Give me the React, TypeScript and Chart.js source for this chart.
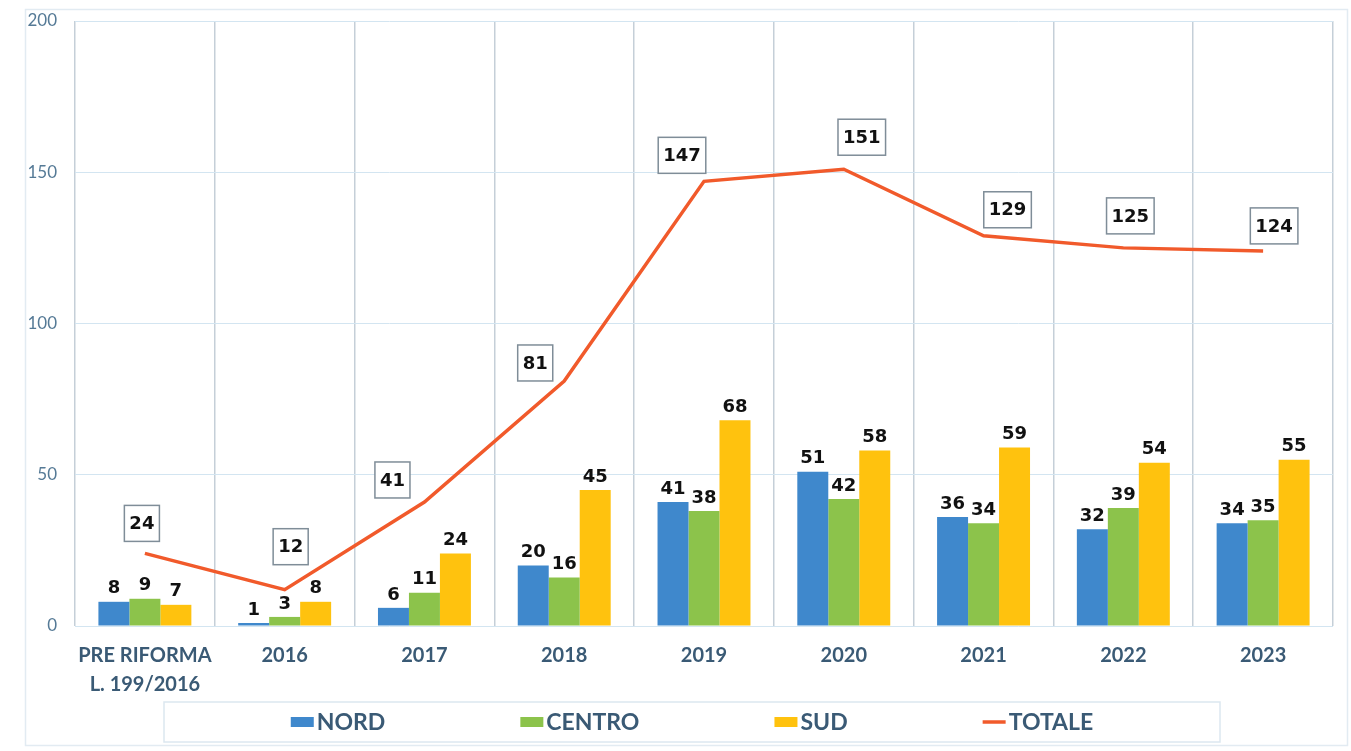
import React, { useEffect, useRef } from "react";
import { Chart, registerables } from "chart.js";

Chart.register(...registerables);

const categories: (string | string[])[] = [
  ["PRE RIFORMA", "L. 199/2016"],
  "2016",
  "2017",
  "2018",
  "2019",
  "2020",
  "2021",
  "2022",
  "2023",
];
const nord = [8, 1, 6, 20, 41, 51, 36, 32, 34];
const centro = [9, 3, 11, 16, 38, 42, 34, 39, 35];
const sud = [7, 8, 24, 45, 68, 58, 59, 54, 55];
const totale = [24, 12, 41, 81, 147, 151, 129, 125, 124];
const yTicks = [0, 50, 100, 150, 200];

const COLORS = {
  nord: "#3f88cc",
  centro: "#8cc34b",
  sud: "#ffc20e",
  totale: "#f15a2b",
};

const TEXT_DARK = "#3a5a75";

const labelsPlugin = {
  id: "valueLabels",
  afterDatasetsDraw(chart: any, _args: any, opts: any) {
    const ctx = chart.ctx;
    ctx.save();
    chart.data.datasets.forEach((ds: any, di: number) => {
      const meta = chart.getDatasetMeta(di);
      if (meta.hidden) return;
      if (ds.type === "line") {
        ctx.font = "bold 18px 'DejaVu Sans'";
        ctx.textAlign = "center";
        ctx.textBaseline = "middle";
        meta.data.forEach((el: any, i: number) => {
          const off = (opts.lineOffsets && opts.lineOffsets[i]) || [0, -28];
          const cx = el.x + off[0];
          const cy = el.y + off[1];
          const txt = String(ds.data[i]);
          const w = ctx.measureText(txt).width + 10;
          const h = 36;
          ctx.fillStyle = "#ffffff";
          ctx.fillRect(cx - w / 2, cy - h / 2, w, h);
          ctx.strokeStyle = "#7f8d98";
          ctx.lineWidth = 1.5;
          ctx.strokeRect(cx - w / 2, cy - h / 2, w, h);
          ctx.fillStyle = "#111111";
          ctx.fillText(txt, cx, cy + 1);
        });
      } else {
        ctx.font = "bold 18px 'DejaVu Sans'";
        ctx.textAlign = "center";
        ctx.textBaseline = "bottom";
        ctx.fillStyle = "#111111";
        meta.data.forEach((el: any, i: number) => {
          ctx.fillText(String(ds.data[i]), el.x, el.y - 4);
        });
      }
    });
    ctx.restore();
  },
};

const framePlugin = {
  id: "frameAndLegend",
  beforeDraw(chart: any) {
    const ctx = chart.ctx;
    ctx.save();
    ctx.fillStyle = "#ffffff";
    ctx.fillRect(0, 0, chart.width, chart.height);
    ctx.strokeStyle = "#e2ebf2";
    ctx.lineWidth = 1.5;
    ctx.strokeRect(25.5, 9.5, chart.width - 29, chart.height - 15);
    ctx.restore();
  },
  afterDraw(chart: any) {
    const ctx = chart.ctx;
    const area = chart.chartArea;
    ctx.save();
    const center = (area.left + area.right) / 2 - 12;
    const cy = 722;
    ctx.strokeStyle = "#dce7f0";
    ctx.lineWidth = 1.5;
    ctx.strokeRect(center - 528, cy - 20, 1056, 40);
    ctx.font = "bold 23px Lato";
    ctx.textBaseline = "middle";
    ctx.textAlign = "left";
    const gap = 135;
    const items = chart.data.datasets.map((ds: any) => {
      const tw = ctx.measureText(ds.label).width;
      return { ds, tw, w: 23 + 3 + tw };
    });
    const total = items.reduce((s: number, it: any) => s + it.w, 0) + gap * (items.length - 1);
    let x = center - total / 2;
    items.forEach((it: any) => {
      const ds = it.ds;
      if (ds.type === "line") {
        ctx.strokeStyle = ds.borderColor;
        ctx.lineWidth = 3.5;
        ctx.beginPath();
        ctx.moveTo(x, cy);
        ctx.lineTo(x + 23, cy);
        ctx.stroke();
      } else {
        ctx.fillStyle = ds.backgroundColor;
        ctx.fillRect(x, cy - 5, 23, 10);
      }
      ctx.fillStyle = TEXT_DARK;
      ctx.fillText(ds.label, x + 26, cy + 1);
      x += it.w + gap;
    });
    ctx.restore();
  },
};

export default function App() {
  const canvasRef = useRef<HTMLCanvasElement | null>(null);

  useEffect(() => {
    if (!canvasRef.current) return;
    const chart = new Chart(canvasRef.current, {
      type: "bar",
      data: {
        labels: categories,
        datasets: [
          { type: "bar", label: "NORD", data: nord, backgroundColor: COLORS.nord, order: 1, categoryPercentage: 0.665, barPercentage: 1.0 },
          { type: "bar", label: "CENTRO", data: centro, backgroundColor: COLORS.centro, order: 1, categoryPercentage: 0.665, barPercentage: 1.0 },
          { type: "bar", label: "SUD", data: sud, backgroundColor: COLORS.sud, order: 1, categoryPercentage: 0.665, barPercentage: 1.0 },
          {
            type: "line",
            label: "TOTALE",
            data: totale,
            borderColor: COLORS.totale,
            backgroundColor: COLORS.totale,
            borderWidth: 3.5,
            pointRadius: 0,
            tension: 0,
            order: 0,
          },
        ] as any,
      },
      options: {
        responsive: false,
        animation: false,
        layout: { padding: { left: 25, right: 18, top: 21, bottom: 0 } },
        plugins: {
          legend: { display: false },
          tooltip: { enabled: false },
          valueLabels: {
            lineOffsets: [
              [-3, -30],
              [6, -43],
              [-32, -22],
              [-29, -18],
              [-22, -26],
              [18, -32],
              [24, -26],
              [7, -32],
              [11, -25],
            ],
          },
        } as any,
        scales: {
          x: {
            offset: true,
            grid: { offset: true, color: "#c5cfd8", lineWidth: 1.5, drawTicks: false },
            border: { display: false },
            ticks: {
              padding: 15,
              color: TEXT_DARK,
              font: { family: "Lato", size: 20, weight: "bold", lineHeight: 1.45 },
              maxRotation: 0,
              autoSkip: false,
            },
            afterFit: (scale: any) => {
              scale.height = 125;
              scale.paddingTop = 0;
              scale.paddingBottom = 0;
            },
          },
          y: {
            min: 0,
            max: 200,
            afterBuildTicks: (scale: any) => {
              scale.ticks = yTicks.map((v) => ({ value: v }));
            },
            grid: { color: "#d3e5f1", lineWidth: 1, drawTicks: false },
            border: { display: false },
            ticks: {
              padding: 18,
              color: "#557a96",
              font: { family: "Lato", size: 17 },
            },
            afterFit: (scale: any) => {
              scale.width = 50;
              scale.paddingTop = 0;
              scale.paddingBottom = 0;
            },
          },
        },
      },
      plugins: [framePlugin, labelsPlugin],
    });
    return () => chart.destroy();
  }, []);

  return (
    <div style={{ position: "fixed", left: 0, top: 0, width: 1351, height: 751 }}>
      <canvas ref={canvasRef} width={1351} height={751} style={{ display: "block" }} />
    </div>
  );
}
